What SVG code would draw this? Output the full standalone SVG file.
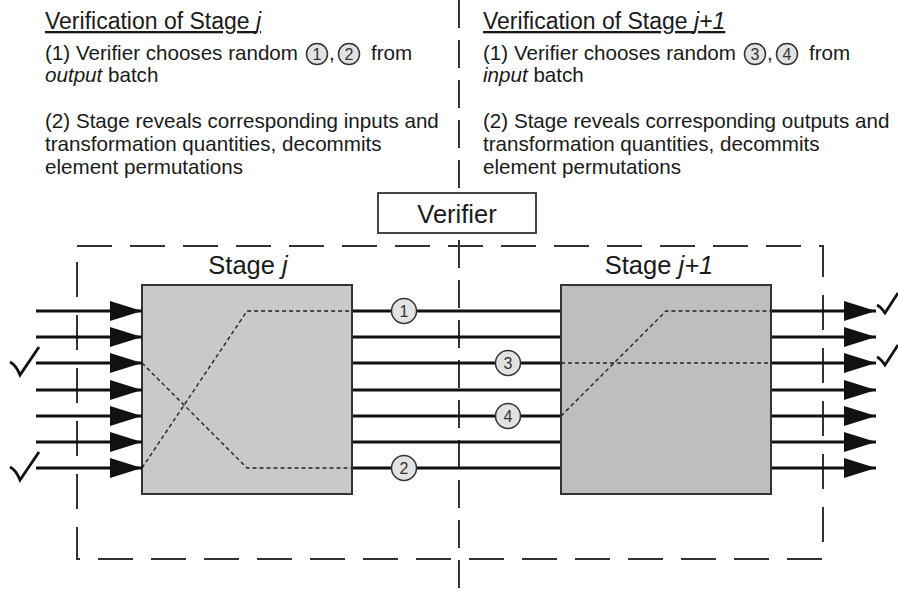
<svg xmlns="http://www.w3.org/2000/svg" width="898" height="592" viewBox="0 0 898 592">
  <defs>
    <style>
      .txt { font-family: "Liberation Sans", Arial, sans-serif; fill: #1a1a1a; }
      .head { font-size: 23px; text-decoration: underline; }
      .body { font-size: 20.6px; }
      .big { font-size: 25.5px; }
      .num { font-size: 16px; text-anchor: middle; fill: #333; }
      .stage { stroke: #333; stroke-width: 2; }
      .wire { stroke: #111; stroke-width: 3; fill: none; }
      .route { stroke: #222; stroke-width: 1.4; stroke-dasharray: 4 3; fill: none; }
      .frame { stroke: #333; stroke-width: 2; stroke-dasharray: 35 18; fill: none; }
      .divider { stroke: #333; stroke-width: 2; stroke-dasharray: 28 12; fill: none; }
      .pick { fill: #e2e2e2; stroke: #333; stroke-width: 1.5; }
      .tick { stroke: #111; stroke-width: 2.8; fill: none; stroke-linejoin: miter; }
    </style>
    <marker id="arrow" markerUnits="userSpaceOnUse" markerWidth="33" markerHeight="22" refX="32" refY="11" orient="auto">
      <path d="M0,1 L32,11 L0,21 z" fill="#111"/>
    </marker>
  </defs>

  <rect width="898" height="592" fill="#fff"/>

  <!-- explanatory text, left column -->
  <g id="text-stage-j" class="txt">
    <text class="head" x="45" y="29">Verification of Stage <tspan font-style="italic">j</tspan></text>
    <text class="body" x="45" y="60">(1) Verifier chooses random</text>
    <circle class="pick" cx="317" cy="54" r="10.5"/>
    <text class="num" x="317" y="59.5" font-size="14.5">1</text>
    <text class="body" x="329" y="60">,</text>
    <circle class="pick" cx="349" cy="54" r="10.5"/>
    <text class="num" x="349" y="59.5" font-size="14.5">2</text>
    <text class="body" x="371" y="60">from</text>
    <text class="body" x="45" y="82"><tspan font-style="italic">output</tspan> batch</text>
    <text class="body" x="45" y="128">(2) Stage reveals corresponding inputs and</text>
    <text class="body" x="45" y="151">transformation quantities, decommits</text>
    <text class="body" x="45" y="174">element permutations</text>
  </g>

  <!-- explanatory text, right column -->
  <g id="text-stage-j1" class="txt">
    <text class="head" x="483" y="29">Verification of Stage <tspan font-style="italic">j+1</tspan></text>
    <text class="body" x="483" y="60">(1) Verifier chooses random</text>
    <circle class="pick" cx="755" cy="54" r="10.5"/>
    <text class="num" x="755" y="59.5" font-size="14.5">3</text>
    <text class="body" x="767" y="60">,</text>
    <circle class="pick" cx="787" cy="54" r="10.5"/>
    <text class="num" x="787" y="59.5" font-size="14.5">4</text>
    <text class="body" x="809" y="60">from</text>
    <text class="body" x="483" y="82"><tspan font-style="italic">input</tspan> batch</text>
    <text class="body" x="483" y="128">(2) Stage reveals corresponding outputs and</text>
    <text class="body" x="483" y="151">transformation quantities, decommits</text>
    <text class="body" x="483" y="174">element permutations</text>
  </g>

  <!-- verifier boundary and the two-stage frame -->
  <g id="frames">
    <line class="divider" x1="459" y1="0" x2="459" y2="592"/>
    <rect class="frame" x="77" y="246" width="746" height="313"/>
  </g>

  <g id="verifier">
    <rect x="378" y="193" width="158" height="40" fill="#fff" stroke="#333" stroke-width="1.8"/>
    <text class="txt big" x="457" y="223" text-anchor="middle">Verifier</text>
  </g>

  <g id="stage-j">
    <rect class="stage" x="142" y="285" width="210" height="209" fill="#c9c9c9"/>
    <text class="txt big" x="248" y="274" text-anchor="middle">Stage <tspan font-style="italic">j</tspan></text>
    <path class="route" d="M142,363 L247,468 L352,468"/>
    <path class="route" d="M142,468 L247,311 L352,311"/>
  </g>

  <g id="stage-j1">
    <rect class="stage" x="561" y="285" width="210" height="209" fill="#bebebe"/>
    <text class="txt big" x="659" y="274" text-anchor="middle">Stage <tspan font-style="italic">j+1</tspan></text>
    <path class="route" d="M561,416 L666,311 L771,311"/>
    <path class="route" d="M561,363 L771,363"/>
  </g>

  <!-- wires: inputs, inter-stage links, outputs -->
  <g id="connectors">
    <g id="inputs">
      <line class="wire" x1="36" y1="311" x2="142" y2="311" marker-end="url(#arrow)"/>
      <line class="wire" x1="36" y1="337" x2="142" y2="337" marker-end="url(#arrow)"/>
      <line class="wire" x1="36" y1="363" x2="142" y2="363" marker-end="url(#arrow)"/>
      <line class="wire" x1="36" y1="390" x2="142" y2="390" marker-end="url(#arrow)"/>
      <line class="wire" x1="36" y1="416" x2="142" y2="416" marker-end="url(#arrow)"/>
      <line class="wire" x1="36" y1="442" x2="142" y2="442" marker-end="url(#arrow)"/>
      <line class="wire" x1="36" y1="468" x2="142" y2="468" marker-end="url(#arrow)"/>
    </g>
    <g id="links">
      <line class="wire" x1="353" y1="311" x2="560" y2="311"/>
      <line class="wire" x1="353" y1="337" x2="560" y2="337"/>
      <line class="wire" x1="353" y1="363" x2="560" y2="363"/>
      <line class="wire" x1="353" y1="390" x2="560" y2="390"/>
      <line class="wire" x1="353" y1="416" x2="560" y2="416"/>
      <line class="wire" x1="353" y1="442" x2="560" y2="442"/>
      <line class="wire" x1="353" y1="468" x2="560" y2="468"/>
    </g>
    <g id="outputs">
      <line class="wire" x1="772" y1="311" x2="876" y2="311" marker-end="url(#arrow)"/>
      <line class="wire" x1="772" y1="337" x2="876" y2="337" marker-end="url(#arrow)"/>
      <line class="wire" x1="772" y1="363" x2="876" y2="363" marker-end="url(#arrow)"/>
      <line class="wire" x1="772" y1="390" x2="876" y2="390" marker-end="url(#arrow)"/>
      <line class="wire" x1="772" y1="416" x2="876" y2="416" marker-end="url(#arrow)"/>
      <line class="wire" x1="772" y1="442" x2="876" y2="442" marker-end="url(#arrow)"/>
      <line class="wire" x1="772" y1="468" x2="876" y2="468" marker-end="url(#arrow)"/>
    </g>
  </g>

  <!-- sampled elements on the inter-stage links -->
  <g id="pick-1"><circle class="pick" cx="404" cy="311" r="12.5"/><text class="txt num" x="404" y="316.5">1</text></g>
  <g id="pick-2"><circle class="pick" cx="404" cy="468" r="12.5"/><text class="txt num" x="404" y="473.5">2</text></g>
  <g id="pick-3"><circle class="pick" cx="508" cy="363" r="12.5"/><text class="txt num" x="508" y="368.5">3</text></g>
  <g id="pick-4"><circle class="pick" cx="508" cy="416" r="12.5"/><text class="txt num" x="508" y="421.5">4</text></g>

  <!-- verified marks -->
  <g id="checks">
    <path class="tick" d="M10,362 Q16,365 20,375 L39,347"/>
    <path class="tick" d="M10,467 Q16,470 20,480 L39,452"/>
    <path class="tick" d="M877,305 Q881,307 885,313 L898,293"/>
    <path class="tick" d="M877,357 Q881,359 885,365 L898,345"/>
  </g>
</svg>
